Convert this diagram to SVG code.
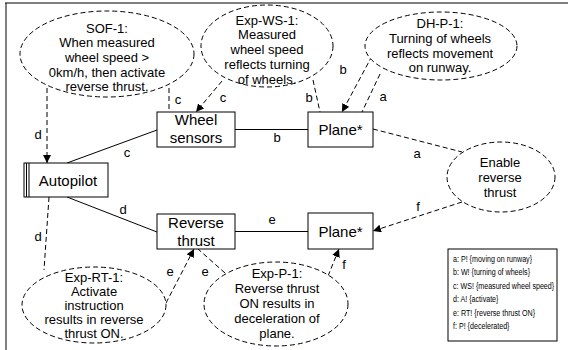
<svg xmlns="http://www.w3.org/2000/svg" width="568" height="350" viewBox="0 0 568 350">
  <style>
    text { font-family: "Liberation Sans", Arial, sans-serif; fill: #000; }
    .el { font-size: 13px; text-anchor: middle; }
    .bx { font-size: 15px; text-anchor: middle; }
    .lb { font-size: 13px; text-anchor: middle; }
    .lg { font-size: 9.5px; }
    .req { fill: #fff; stroke: #000; stroke-width: 1; stroke-dasharray: 5 3; }
    .dom { fill: #fff; stroke: #000; stroke-width: 1; }
    .solid { stroke: #000; stroke-width: 1; fill: none; }
    .dash { stroke: #000; stroke-width: 1; fill: none; stroke-dasharray: 5 3; }
  </style>
  <defs>
    <marker id="arrow" viewBox="0 0 10 10" refX="10" refY="5" markerWidth="8" markerHeight="8" markerUnits="userSpaceOnUse" orient="auto">
      <path d="M0,0 L10,5 L0,10 z" fill="#000"/>
    </marker>
  </defs>

  <rect width="568" height="350" fill="#fff"/>
  <!-- frame -->
  <line x1="5" y1="3" x2="568" y2="3" stroke="#808080" stroke-width="2"/>
  <line x1="6" y1="3" x2="6" y2="350" stroke="#000" stroke-width="1"/>

  <g id="connectors">
    <!-- SOF-1 -->
    <line class="dash" x1="47" y1="88" x2="47" y2="163" marker-end="url(#arrow)"/>
    <line class="dash" x1="169" y1="88" x2="169" y2="112"/>
    <!-- Exp-WS-1 -->
    <line class="dash" x1="222" y1="81" x2="196" y2="112" marker-end="url(#arrow)"/>
    <line class="dash" x1="313" y1="80" x2="320" y2="112"/>
    <!-- DH-P-1 -->
    <line class="dash" x1="372" y1="56" x2="342" y2="112" marker-end="url(#arrow)"/>
    <line class="dash" x1="380" y1="74" x2="362" y2="112"/>
    <!-- Enable reverse thrust -->
    <line class="dash" x1="373" y1="129" x2="462" y2="152"/>
    <line class="dash" x1="462" y1="202" x2="373" y2="231" marker-end="url(#arrow)"/>
    <!-- Exp-RT-1 -->
    <line class="dash" x1="49" y1="197" x2="44" y2="270"/>
    <line class="dash" x1="166" y1="303" x2="194" y2="249" marker-end="url(#arrow)"/>
    <!-- Exp-P-1 -->
    <line class="dash" x1="225" y1="273" x2="198" y2="249"/>
    <line class="dash" x1="328" y1="276" x2="339" y2="249" marker-end="url(#arrow)"/>
    <!-- domain interfaces -->
    <line class="solid" x1="157" y1="130" x2="67" y2="163"/>
    <line class="solid" x1="235" y1="129.5" x2="308" y2="129.5"/>
    <line class="solid" x1="67" y1="197" x2="157" y2="232"/>
    <line class="solid" x1="235" y1="231.5" x2="308" y2="231.5"/>
    <!-- labels -->
    <text class="lb" x="38" y="139">d</text>
    <text class="lb" x="178" y="104">c</text>
    <text class="lb" x="127" y="157">c</text>
    <text class="lb" x="223" y="102">c</text>
    <text class="lb" x="309" y="102">b</text>
    <text class="lb" x="343" y="74">b</text>
    <text class="lb" x="383" y="101">a</text>
    <text class="lb" x="417" y="158">a</text>
    <text class="lb" x="277" y="142">b</text>
    <text class="lb" x="418" y="211">f</text>
    <text class="lb" x="123" y="214">d</text>
    <text class="lb" x="38" y="241">d</text>
    <text class="lb" x="170" y="276">e</text>
    <text class="lb" x="205" y="276">e</text>
    <text class="lb" x="344" y="269">f</text>
    <text class="lb" x="272" y="224">e</text>
  </g>

  <g id="sof-1">
    <ellipse class="req" cx="107" cy="54" rx="87" ry="43"/>
    <text class="el" x="107" y="32.5">SOF-1:</text>
    <text class="el" x="107" y="47">When measured</text>
    <text class="el" x="107" y="61.5">wheel speed &gt;</text>
    <text class="el" x="107" y="76.5">0km/h, then activate</text>
    <text class="el" x="107" y="91">reverse thrust.</text>
  </g>

  <g id="exp-ws-1">
    <ellipse class="req" cx="267" cy="46" rx="66" ry="41"/>
    <text class="el" x="267" y="24.5">Exp-WS-1:</text>
    <text class="el" x="267" y="39">Measured</text>
    <text class="el" x="267" y="54">wheel speed</text>
    <text class="el" x="267" y="69">reflects turning</text>
    <text class="el" x="267" y="84">of wheels.</text>
  </g>

  <g id="dh-p-1">
    <ellipse class="req" cx="441" cy="46" rx="76" ry="34"/>
    <text class="el" x="440" y="27.5">DH-P-1:</text>
    <text class="el" x="440" y="42.5">Turning of wheels</text>
    <text class="el" x="440" y="57.5">reflects movement</text>
    <text class="el" x="440" y="71.5">on runway.</text>
  </g>

  <g id="enable-reverse-thrust">
    <ellipse class="req" cx="501" cy="177" rx="54" ry="35"/>
    <text class="el" x="500" y="166.5">Enable</text>
    <text class="el" x="500" y="182">reverse</text>
    <text class="el" x="500" y="197">thrust</text>
  </g>

  <g id="exp-rt-1">
    <ellipse class="req" cx="94" cy="305" rx="72" ry="38"/>
    <text class="el" x="94" y="281.5">Exp-RT-1:</text>
    <text class="el" x="94" y="295.5">Activate</text>
    <text class="el" x="94" y="310">instruction</text>
    <text class="el" x="94" y="324">results in reverse</text>
    <text class="el" x="94" y="338">thrust ON.</text>
  </g>

  <g id="exp-p-1">
    <ellipse class="req" cx="276" cy="304" rx="72" ry="42"/>
    <text class="el" x="277" y="278">Exp-P-1:</text>
    <text class="el" x="277" y="293">Reverse thrust</text>
    <text class="el" x="277" y="308">ON results in</text>
    <text class="el" x="277" y="323">deceleration of</text>
    <text class="el" x="277" y="338">plane.</text>
  </g>

  <g id="autopilot">
    <rect class="dom" x="24" y="163" width="84" height="34"/>
    <line class="solid" x1="26.5" y1="163" x2="26.5" y2="197"/>
    <line class="solid" x1="29" y1="163" x2="29" y2="197"/>
    <text class="bx" x="68" y="186">Autopilot</text>
  </g>

  <g id="wheel-sensors">
    <rect class="dom" x="157" y="112" width="78" height="35"/>
    <text class="bx" x="196" y="124.5">Wheel</text>
    <text class="bx" x="196" y="142.5">sensors</text>
  </g>

  <g id="plane-top">
    <rect class="dom" x="308" y="112" width="65" height="35"/>
    <text class="bx" x="340.5" y="135">Plane*</text>
  </g>

  <g id="reverse-thrust">
    <rect class="dom" x="157" y="214" width="78" height="35"/>
    <text class="bx" x="196" y="227.5">Reverse</text>
    <text class="bx" x="196" y="245.5">thrust</text>
  </g>

  <g id="plane-bottom">
    <rect class="dom" x="308" y="213" width="65" height="36"/>
    <text class="bx" x="340.5" y="236.5">Plane*</text>
  </g>

  <g id="legend">
    <rect class="dom" x="448" y="249" width="109" height="92"/>
    <g transform="translate(453,0) scale(0.75,1)">
      <text class="lg" x="0" y="262">a: P! {moving on runway}</text>
      <text class="lg" x="0" y="275.5">b: W! {turning of wheels}</text>
      <text class="lg" x="0" y="289">c: WS! {measured wheel speed}</text>
      <text class="lg" x="0" y="302.5">d: A! {activate}</text>
      <text class="lg" x="0" y="316">e: RT! {reverse thrust ON}</text>
      <text class="lg" x="0" y="329.5">f: P! {decelerated}</text>
    </g>
  </g>
</svg>
